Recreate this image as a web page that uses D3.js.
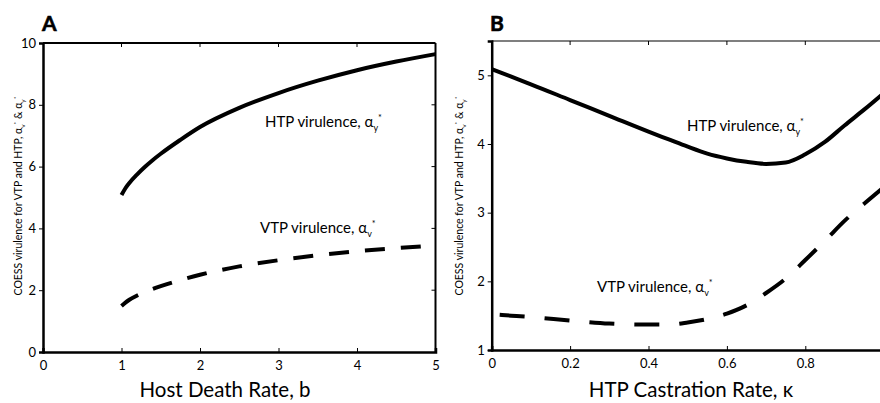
<!DOCTYPE html>
<html>
<head>
<meta charset="utf-8">
<script src="https://cdn.jsdelivr.net/npm/d3@7"></script>
<style>
  body { margin: 0; background: #fff; }
  text { font-family: Lato, "Open Sans", sans-serif; fill: #000; }
</style>
</head>
<body>
<div id="chart"></div>
<script>
// panel A: host death rate
var deathRate = [1, 1.05, 1.1, 1.2, 1.3, 1.4, 1.5, 1.75, 2, 2.5, 3, 3.5, 4, 4.5, 5];
var htpA = [5.08, 5.3, 5.47, 5.75, 5.995, 6.215, 6.415, 6.865, 7.28, 7.9, 8.38, 8.78, 9.12, 9.4, 9.64];
var vtpA = [1.49, 1.6, 1.69, 1.83, 1.94, 2.04, 2.13, 2.33, 2.5, 2.77, 2.97, 3.13, 3.26, 3.36, 3.45];
var ticksA_x = [0, 1, 2, 3, 4, 5];
var ticksA_y = [0, 2, 4, 6, 8, 10];

// panel B: HTP castration rate (axis runs to 1, cut off by the picture edge)
var kappa = [0, 0.05, 0.1, 0.2, 0.3, 0.4, 0.45, 0.5, 0.55, 0.6, 0.65, 0.7, 0.75, 0.8, 0.85, 0.9, 0.95, 1.0];
var htpB = [5.09, 4.98, 4.87, 4.64, 4.41, 4.18, 4.07, 3.96, 3.86, 3.79, 3.74, 3.71, 3.73, 3.85, 4.03, 4.27, 4.5, 4.74];
var vtpB = [1.52, 1.5, 1.48, 1.43, 1.385, 1.37, 1.37, 1.4, 1.45, 1.53, 1.65, 1.83, 2.04, 2.31, 2.59, 2.88, 3.13, 3.37];
var ticksB_x = [0, 0.2, 0.4, 0.6, 0.8];
var ticksB_y = [1, 2, 3, 4, 5];

var svg = d3.select('#chart')
	.append('svg')
	.attr('width', 880)
	.attr('height', 403);

function label(g, x, y, name, sub) {
	var t = g.append('text')
		.attr('x', x)
		.attr('y', y)
		.attr('font-size', 15);
	t.append('tspan').text(name + ' virulence, \u03b1');
	t.append('tspan').attr('font-size', 9).attr('dy', 4).text(sub);
	t.append('tspan').attr('font-size', 9).attr('dy', -10).text('*');
}

function yTitle(x, y) {
	var t = svg.append('text')
		.attr('transform', 'translate(' + x + ',' + y + ') rotate(-90)')
		.attr('text-anchor', 'middle')
		.attr('font-size', 10.5);
	t.append('tspan').text('COESS virulence for VTP and HTP, \u03b1');
	t.append('tspan').attr('font-size', 6.5).attr('dy', 3).text('v');
	t.append('tspan').attr('font-size', 6.5).attr('dy', -7).text('*');
	t.append('tspan').attr('dy', 4).text(' & \u03b1');
	t.append('tspan').attr('font-size', 6.5).attr('dy', 3).text('y');
	t.append('tspan').attr('font-size', 6.5).attr('dy', -7).text('*');
}

function panel(opt) {
	var x = d3.scaleLinear().domain(opt.xDomain).range(opt.xRange);
	var y = d3.scaleLinear().domain(opt.yDomain).range(opt.yRange);
	var g = svg.append('g');

	// frame (top / right)
	g.append('line')
		.attr('x1', x.range()[0]).attr('x2', x.range()[1])
		.attr('y1', y.range()[1]).attr('y2', y.range()[1])
		.attr('stroke', '#000').attr('stroke-width', opt.topWidth);
	if (opt.rightBorder) {
		g.append('line')
			.attr('x1', x.range()[1]).attr('x2', x.range()[1])
			.attr('y1', y.range()[0]).attr('y2', y.range()[1])
			.attr('stroke', '#000').attr('stroke-width', 2);
	}

	// x axis (bottom), ticks pointing inward
	var xAxis = g.append('g')
		.attr('transform', 'translate(0,' + y.range()[0] + ')')
		.call(d3.axisBottom(x).tickValues(opt.xTicks).tickSize(-4).tickPadding(9)
			.tickFormat(function (d) { return String(d); }));
	xAxis.select('.domain').attr('stroke-width', 2.5);
	xAxis.selectAll('.tick line').attr('stroke-width', 1);
	xAxis.selectAll('.tick text').attr('font-size', 13).attr('font-family', 'Lato, sans-serif');

	// top ticks
	var inner = function (d) { return d > x.domain()[0] && d < x.domain()[1]; };
	g.append('g')
		.selectAll('line')
		.data(opt.xTicks.filter(inner))
		.enter()
		.append('line')
		.attr('x1', function (d) { return x(d); })
		.attr('x2', function (d) { return x(d); })
		.attr('y1', y.range()[1])
		.attr('y2', y.range()[1] + 4)
		.attr('stroke', '#000');

	// y axis (left)
	var yAxis = g.append('g')
		.attr('transform', 'translate(' + x.range()[0] + ',0)')
		.call(d3.axisLeft(y).tickValues(opt.yTicks).tickSize(4).tickPadding(3)
			.tickFormat(function (d) { return String(d); }));
	yAxis.select('.domain').attr('stroke-width', 2.5);
	yAxis.selectAll('.tick line').attr('stroke-width', 1);
	yAxis.selectAll('.tick text').attr('font-size', 13).attr('font-family', 'Lato, sans-serif');

	// right ticks
	if (opt.rightBorder) {
		g.append('g')
			.selectAll('line')
			.data(opt.yTicks.slice(1, -1))
			.enter()
			.append('line')
			.attr('x1', x.range()[1] - 4)
			.attr('x2', x.range()[1])
			.attr('y1', function (d) { return y(d); })
			.attr('y2', function (d) { return y(d); })
			.attr('stroke', '#000');
	}

	var line = d3.line()
		.x(function (d) { return x(d[0]); })
		.y(function (d) { return y(d[1]); })
		.curve(d3.curveMonotoneX);

	g.append('path')
		.datum(d3.zip(opt.xs, opt.htp))
		.attr('d', line)
		.attr('fill', 'none')
		.attr('stroke', '#000')
		.attr('stroke-width', 4);

	g.append('path')
		.datum(d3.zip(opt.xs, opt.vtp))
		.attr('d', line)
		.attr('fill', 'none')
		.attr('stroke', '#000')
		.attr('stroke-width', 4)
		.attr('stroke-dasharray', opt.dash)
		.attr('stroke-dashoffset', opt.dashOffset);

	// panel letter
	svg.append('text')
		.attr('x', opt.letterX)
		.attr('y', 31)
		.attr('font-family', '"Liberation Sans", Arial, sans-serif')
		.attr('font-weight', 'bold')
		.attr('font-size', 21)
		.attr('stroke', '#000')
		.attr('stroke-width', 0.6)
		.text(opt.letter);

	label(g, opt.htpLabel[0], opt.htpLabel[1], 'HTP', 'y');
	label(g, opt.vtpLabel[0], opt.vtpLabel[1], 'VTP', 'v');

	svg.append('text')
		.attr('x', opt.titleX)
		.attr('y', 397)
		.attr('text-anchor', 'middle')
		.attr('font-size', 20.5)
		.text(opt.title);

	yTitle(opt.yTitleX, 196);
}

panel({
	letter: 'A', letterX: 42,
	xDomain: [0, 5], xRange: [43, 435.5],
	yDomain: [0, 10], yRange: [352, 43],
	xTicks: ticksA_x, yTicks: ticksA_y,
	xs: deathRate, htp: htpA, vtp: vtpA,
	dash: '20,16', dashOffset: 0,
	topWidth: 2, rightBorder: true,
	htpLabel: [265, 127], vtpLabel: [260, 233],
	title: 'Host Death Rate, b', titleX: 225,
	yTitleX: 22
});

panel({
	letter: 'B', letterX: 490,
	xDomain: [0, 1], xRange: [491.7, 883.7],
	yDomain: [1, 5.5], yRange: [350, 41],
	xTicks: ticksB_x, yTicks: ticksB_y,
	xs: kappa, htp: htpB, vtp: vtpB,
	dash: '25,20', dashOffset: 37,
	topWidth: 1.2, rightBorder: false,
	htpLabel: [687, 131], vtpLabel: [597, 292],
	title: 'HTP Castration Rate, \u03ba', titleX: 691,
	yTitleX: 463
});
</script>
</body>
</html>
